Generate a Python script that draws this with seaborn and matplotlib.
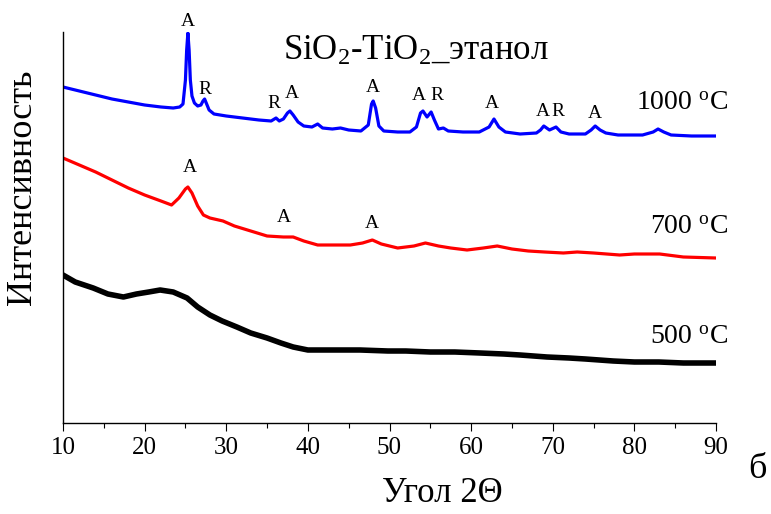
import numpy as np
import matplotlib
matplotlib.use("Agg")
import matplotlib.pyplot as plt
import seaborn as sns

# ─── Data (intensity in arbitrary units) ─────────────────────────────────────

x_1000 = [10, 12, 14, 16, 18, 20, 22, 23.5, 24.3, 24.7, 25.0, 25.15, 25.3, 25.45,
          25.6, 25.8, 26.1, 26.5, 26.9, 27.15, 27.35, 27.6, 27.9, 28.5, 30, 32, 34,
          35.5, 36.1, 36.5, 37.0, 37.5, 37.8, 38.2, 38.8, 39.5, 40.5, 41.2, 41.8,
          43, 44, 45, 46.5, 47.4, 47.8, 48.0, 48.3, 48.7, 49.3, 51, 52.5, 53.3,
          53.8, 54.1, 54.6, 55.1, 55.5, 56.0, 56.6, 57.2, 59, 61, 62.2, 62.8, 63.4,
          64.2, 66, 68, 68.5, 68.9, 69.6, 70.4, 71.0, 72, 74, 74.7, 75.2, 75.8,
          76.5, 78, 81, 82.3, 82.9, 83.6, 84.5, 87, 90]
y_1000 = [336, 332, 328, 324, 321, 318, 316, 315, 316, 319, 343, 373, 390, 373,
          343, 327, 320, 317, 318, 322, 324, 319, 313, 309, 307, 305, 303,
          302, 305, 302, 304, 310, 312, 308, 301, 297, 296, 299, 295,
          294, 295, 293, 292, 298, 319, 322, 315, 297, 292, 291, 291, 296,
          310, 312, 306, 311, 303, 294, 295, 292, 291, 291, 296, 304, 296,
          291, 289, 290, 293, 297, 293, 296, 291, 289, 289, 293, 297, 293,
          290, 288, 288, 291, 294, 291, 288, 287, 287]

x_700 = [10, 12, 14, 16, 18, 20, 22, 23.3, 24.2, 25.0, 25.3, 25.8, 26.5, 27.2, 28,
         29.6, 31, 33, 35, 37, 38.2, 39.5, 41.2, 43, 45.2, 46.7, 47.9, 49, 51, 53,
         54.4, 56, 57.5, 59.5, 61.5, 63.2, 65, 67, 69, 71.3, 73, 75, 78.2, 80,
         83.1, 86, 90]
y_700 = [265, 258, 251, 243, 235, 228, 222, 218, 225, 234, 236, 230, 217, 208, 205,
         202, 197, 192, 187, 186, 186, 182, 178, 178, 178, 180, 183, 179, 175, 177,
         180, 177, 175, 173, 175, 177, 174, 172, 171, 170, 171, 170, 168, 169,
         169, 166, 165]

x_500 = [10, 11.5, 13.7, 15.5, 17.4, 19, 20.5, 21.9, 23.5, 25.2, 26.5, 28, 29.5,
         31.3, 33, 35, 36.7, 38.2, 40, 42, 44, 46.4, 49.8, 52, 55, 58, 61.1, 64,
         66, 69.3, 72, 74, 77.4, 80, 83, 86, 90]
y_500 = [148, 141, 135, 129, 126, 129, 131, 133, 131, 125, 116, 108, 102,
         96, 90, 85, 80, 76, 73, 73, 73, 73, 72, 72, 71, 71, 70, 69,
         68, 66, 65, 64, 62, 61, 61, 60, 60]

# peak phase labels: A = anatase, R = rutile
peaks_1000_lbl = ["A", "R", "R", "A", "A", "A", "R", "A", "A", "R", "A"]
peaks_1000_x = [25.3, 27.4, 35.8, 38.1, 48.0, 53.6, 55.8, 62.6, 68.8, 70.6, 75.2]
peaks_1000_y = [402, 333, 319, 329, 335, 328, 328, 319, 312, 312, 310]

peaks_700_lbl = ["A", "A", "A"]
peaks_700_x = [25.5, 37.1, 47.9]
peaks_700_y = [255, 205, 200]

temps = ["1000 $^{\\mathrm{o}}$C", "700 $^{\\mathrm{o}}$C", "500 $^{\\mathrm{o}}$C"]
temp_y = [320, 195, 85]

# ─── Style ───────────────────────────────────────────────────────────────────

sns.set_style("ticks")
plt.rcParams.update({
    "font.family": ["Liberation Serif", "DejaVu Serif"],
    "mathtext.fontset": "custom",
    "mathtext.rm": "Liberation Serif",
    "mathtext.it": "Liberation Serif:italic",
    "axes.linewidth": 1.0,
    "axes.edgecolor": "black",
    "text.color": "black",
    "xtick.color": "black",
    "axes.labelcolor": "black",
})

fig = plt.figure(figsize=(7.71, 5.14), dpi=100)
ax = fig.add_axes([63 / 771, 1 - 423 / 514, (716 - 63) / 771, (423 - 32) / 514])

sns.lineplot(x=x_500, y=y_500, color="black", lw=4.0, ax=ax, sort=False)
sns.lineplot(x=x_700, y=y_700, color="#ff0000", lw=2.3, ax=ax, sort=False)
sns.lineplot(x=x_1000, y=y_1000, color="#0000ff", lw=2.3, ax=ax, sort=False)

for lbl, px, py in zip(peaks_1000_lbl, peaks_1000_x, peaks_1000_y):
    ax.text(px, py, lbl, ha="center", va="center", fontsize=14, clip_on=False)
for lbl, px, py in zip(peaks_700_lbl, peaks_700_x, peaks_700_y):
    ax.text(px, py, lbl, ha="center", va="center", fontsize=14, clip_on=False)
for t, ty in zip(temps, temp_y):
    ax.text(91.5, ty, t, ha="right", va="center", fontsize=20, clip_on=False)

ax.text(53.2, 372, "SiO$_2$-TiO$_2$_этанол", ha="center", va="center", fontsize=25)

ax.set_xlim(10, 90)
ax.set_ylim(0, 391)
ax.set_xticks(range(10, 91, 10))
ax.set_xticks(range(15, 90, 10), minor=True)
ax.set_yticks([])
ax.tick_params(axis="x", which="major", direction="out", length=6, width=0.8,
               labelsize=18, pad=4, colors="black")
ax.tick_params(axis="x", which="minor", direction="out", length=3.4, width=0.8,
               colors="black")
sns.despine(ax=ax, top=True, right=True)
ax.set_xlabel("")
ax.set_ylabel("")

fig.text(23 / 771, 1 - 187 / 514, "Интенсивность", rotation=90, ha="center",
         va="center", fontsize=26)
fig.text(382 / 771, 1 - 494 / 514, "Угол 2Θ", ha="left", va="center", fontsize=25)
fig.text(757 / 771, 1 - 470 / 514, "б", ha="center", va="center", fontsize=26)

fig.savefig("out.png", dpi=100)
